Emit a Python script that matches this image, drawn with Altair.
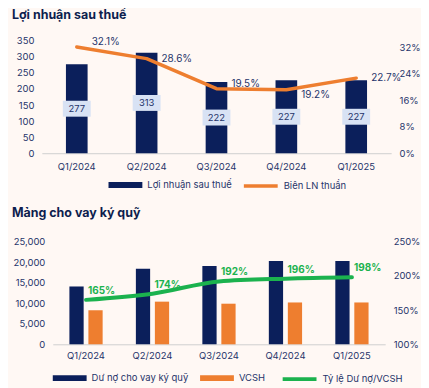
import altair as alt
import pandas as pd

quarters = ["Q1/2024", "Q2/2024", "Q3/2024", "Q4/2024", "Q1/2025"]
profit = [277, 313, 222, 227, 227]
net_margin = [0.321, 0.286, 0.195, 0.192, 0.227]
loans = [14100, 18400, 19100, 20300, 20300]
equity = [8300, 10400, 9900, 10200, 10200]
ratio = [1.65, 1.74, 1.92, 1.96, 1.98]

profit_ticks = [0, 50, 100, 150, 200, 250, 300, 350]
margin_ticks = [0, 0.08, 0.16, 0.24, 0.32]
loan_ticks = [0, 5000, 10000, 15000, 20000, 25000]
ratio_ticks = [1.0, 1.5, 2.0, 2.5]

S_PROFIT = "Lợi nhuận sau thuế"
S_MARGIN = "Biên LN thuần"
S_LOANS = "Dư nợ cho vay ký quỹ"
S_EQ = "VCSH"
S_RATIO = "Tỷ lệ Dư nợ/VCSH"

NAVY = "#0B1F5B"
ORANGE = "#EE7E2F"
GREEN = "#1BB24E"
TEXT = "#26346A"
BOX = "#D8E2F4"
BG = "#FFF8F4"
FONT = "Inter"
FS = 9.5

RECT_SYM = "M-3.4,-0.6H3.4V0.6H-3.4Z"
LINE_SYM = "M-3.4,0H3.4"
BOX_SYM = "M-2.8,-1.6H2.8V1.6H-2.8Z"


def legend(sym, x, y, stroke_w=0):
    kw = dict(title=None, orient="none", legendX=x, legendY=y, direction="horizontal",
              symbolType=sym, symbolSize=100, labelOffset=16, padding=0,
              labelFont=FONT, labelFontSize=FS, labelColor=TEXT)
    if stroke_w:
        kw["symbolStrokeWidth"] = stroke_w
    return alt.Legend(**kw)


def yaxis(orient, values, fmt, offset=0):
    return alt.Axis(orient=orient, values=values, format=fmt, title=None, grid=False,
                    domain=False, ticks=False, labelPadding=8, offset=offset)


def xaxis(pad):
    return alt.Axis(title=None, labelAngle=0, domain=True, domainColor="#CFCFCF",
                    ticks=False, labelPadding=pad)


# ---------------- top panel ----------------
df_top = pd.DataFrame({"q": quarters, "profit": profit, "margin": net_margin,
                       "s1": S_PROFIT, "s2": S_MARGIN})

x_top = alt.X("q:N", sort=quarters,
              scale=alt.Scale(paddingInner=0.69, paddingOuter=0.345), axis=xaxis(8))
y_profit_scale = alt.Scale(domain=[0, 350], nice=False)
y_margin_scale = alt.Scale(domain=[0, 0.34], nice=False)
ax_profit = yaxis("left", profit_ticks, ",.0f")
ax_margin = yaxis("right", margin_ticks, ".0%")

base_top = alt.Chart(df_top)
bars = base_top.mark_bar(color=NAVY).encode(
    x=x_top,
    y=alt.Y("profit:Q", scale=y_profit_scale, axis=ax_profit),
    color=alt.Color("s1:N", scale=alt.Scale(domain=[S_PROFIT], range=[NAVY]),
                    legend=legend(RECT_SYM, 78, 139)),
)
boxes = base_top.transform_calculate(mid="datum.profit / 2").mark_point(
    shape=BOX_SYM, size=100, filled=True, fill=BOX, opacity=1, strokeWidth=0
).encode(x=x_top, y=alt.Y("mid:Q", scale=y_profit_scale, axis=ax_profit))
box_text = base_top.transform_calculate(mid="datum.profit / 2").mark_text(
    font=FONT, fontSize=FS, color=TEXT, baseline="middle"
).encode(x=x_top, y=alt.Y("mid:Q", scale=y_profit_scale, axis=ax_profit), text="profit:Q")

left_top = alt.layer(bars, boxes, box_text)

line = base_top.mark_line(strokeWidth=3.5, strokeJoin="round", strokeCap="round").encode(
    x=x_top,
    y=alt.Y("margin:Q", scale=y_margin_scale, axis=ax_margin),
    stroke=alt.Stroke("s2:N", scale=alt.Scale(domain=[S_MARGIN], range=[ORANGE]),
                      legend=legend(LINE_SYM, 213, 139, 3.5)),
)


def margin_labels(qs, dy):
    return base_top.transform_filter(alt.FieldOneOfPredicate(field="q", oneOf=qs)).mark_text(
        font=FONT, fontSize=FS + 0.5, color=TEXT, align="left", baseline="middle", dx=15, dy=dy
    ).encode(x=x_top, y=alt.Y("margin:Q", scale=y_margin_scale, axis=ax_margin),
             text=alt.Text("margin:Q", format=".1%"))


right_top = alt.layer(line,
                      margin_labels(["Q1/2024", "Q3/2024"], -5),
                      margin_labels(["Q2/2024", "Q1/2025"], 0),
                      margin_labels(["Q4/2024"], 5))

top = alt.layer(left_top, right_top).resolve_scale(y="independent").properties(
    width=351, height=113,
    title=alt.TitleParams(S_PROFIT, anchor="start", frame="group", dx=-30, fontSize=12.5,
                          fontWeight="bold", color="#0E1E4E", font=FONT, offset=14),
)

# ---------------- bottom panel ----------------
df_l = pd.DataFrame({"q": quarters, "value": loans, "series": S_LOANS})
df_e = pd.DataFrame({"q": quarters, "value": equity, "series": S_EQ})
df_r = pd.DataFrame({"q": quarters, "ratio": ratio, "s": S_RATIO})

x_bot = alt.X("q:N", sort=quarters,
              scale=alt.Scale(range=[11, 345], paddingInner=0.5, paddingOuter=0.25),
              axis=xaxis(6))
xoff = alt.XOffset("series:N", scale=alt.Scale(domain=[S_LOANS, S_EQ], paddingInner=0.25))
y_loan_scale = alt.Scale(domain=[0, 25000], nice=False)
y_ratio_scale = alt.Scale(domain=[1.0, 2.5], nice=False)
ax_loan = yaxis("left", loan_ticks, ",.0f", -11)
ax_ratio = yaxis("right", ratio_ticks, ".0%")

bars_l = alt.Chart(df_l).mark_bar().encode(
    x=x_bot, xOffset=xoff,
    y=alt.Y("value:Q", scale=y_loan_scale, axis=ax_loan),
    color=alt.Color("series:N", scale=alt.Scale(domain=[S_LOANS], range=[NAVY]),
                    legend=legend(RECT_SYM, 22, 131)),
)
bars_e = alt.Chart(df_e).mark_bar().encode(
    x=x_bot, xOffset=xoff,
    y=alt.Y("value:Q", scale=y_loan_scale, axis=ax_loan),
    fill=alt.Fill("series:N", scale=alt.Scale(domain=[S_EQ], range=[ORANGE]),
                  legend=legend(RECT_SYM, 170, 131)),
)
left_bot = alt.layer(bars_l, bars_e)

rline = alt.Chart(df_r).mark_line(strokeWidth=4, interpolate="monotone", strokeCap="round").encode(
    x=x_bot,
    y=alt.Y("ratio:Q", scale=y_ratio_scale, axis=ax_ratio),
    stroke=alt.Stroke("s:N", scale=alt.Scale(domain=[S_RATIO], range=[GREEN]),
                      legend=legend(LINE_SYM, 252, 131, 4)),
)
rtext = alt.Chart(df_r).mark_text(
    font=FONT, fontSize=FS + 0.5, fontWeight="bold", color=GREEN, align="left",
    baseline="middle", dx=2, dy=-9
).encode(x=x_bot, y=alt.Y("ratio:Q", scale=y_ratio_scale, axis=ax_ratio),
         text=alt.Text("ratio:Q", format=".0%"))
right_bot = alt.layer(rline, rtext)

bottom = alt.layer(left_bot, right_bot).resolve_scale(y="independent").properties(
    width=345, height=103,
    title=alt.TitleParams("Mảng cho vay ký quỹ", anchor="start", frame="group", dx=-30,
                          fontSize=12.5, fontWeight="bold", color="#0E1E4E", font=FONT,
                          offset=17),
)

chart = alt.vconcat(top, bottom, spacing=14).resolve_scale(
    color="independent", fill="independent", stroke="independent"
).resolve_legend(
    color="independent", fill="independent", stroke="independent"
).properties(
    background=BG,
    padding={"left": 4, "top": 0, "right": 0, "bottom": 0},
).configure_view(stroke=None).configure_axis(
    labelFont=FONT, labelFontSize=FS, labelColor=TEXT
)

chart.save("out.html", embed_options={"renderer": "svg", "actions": False})
